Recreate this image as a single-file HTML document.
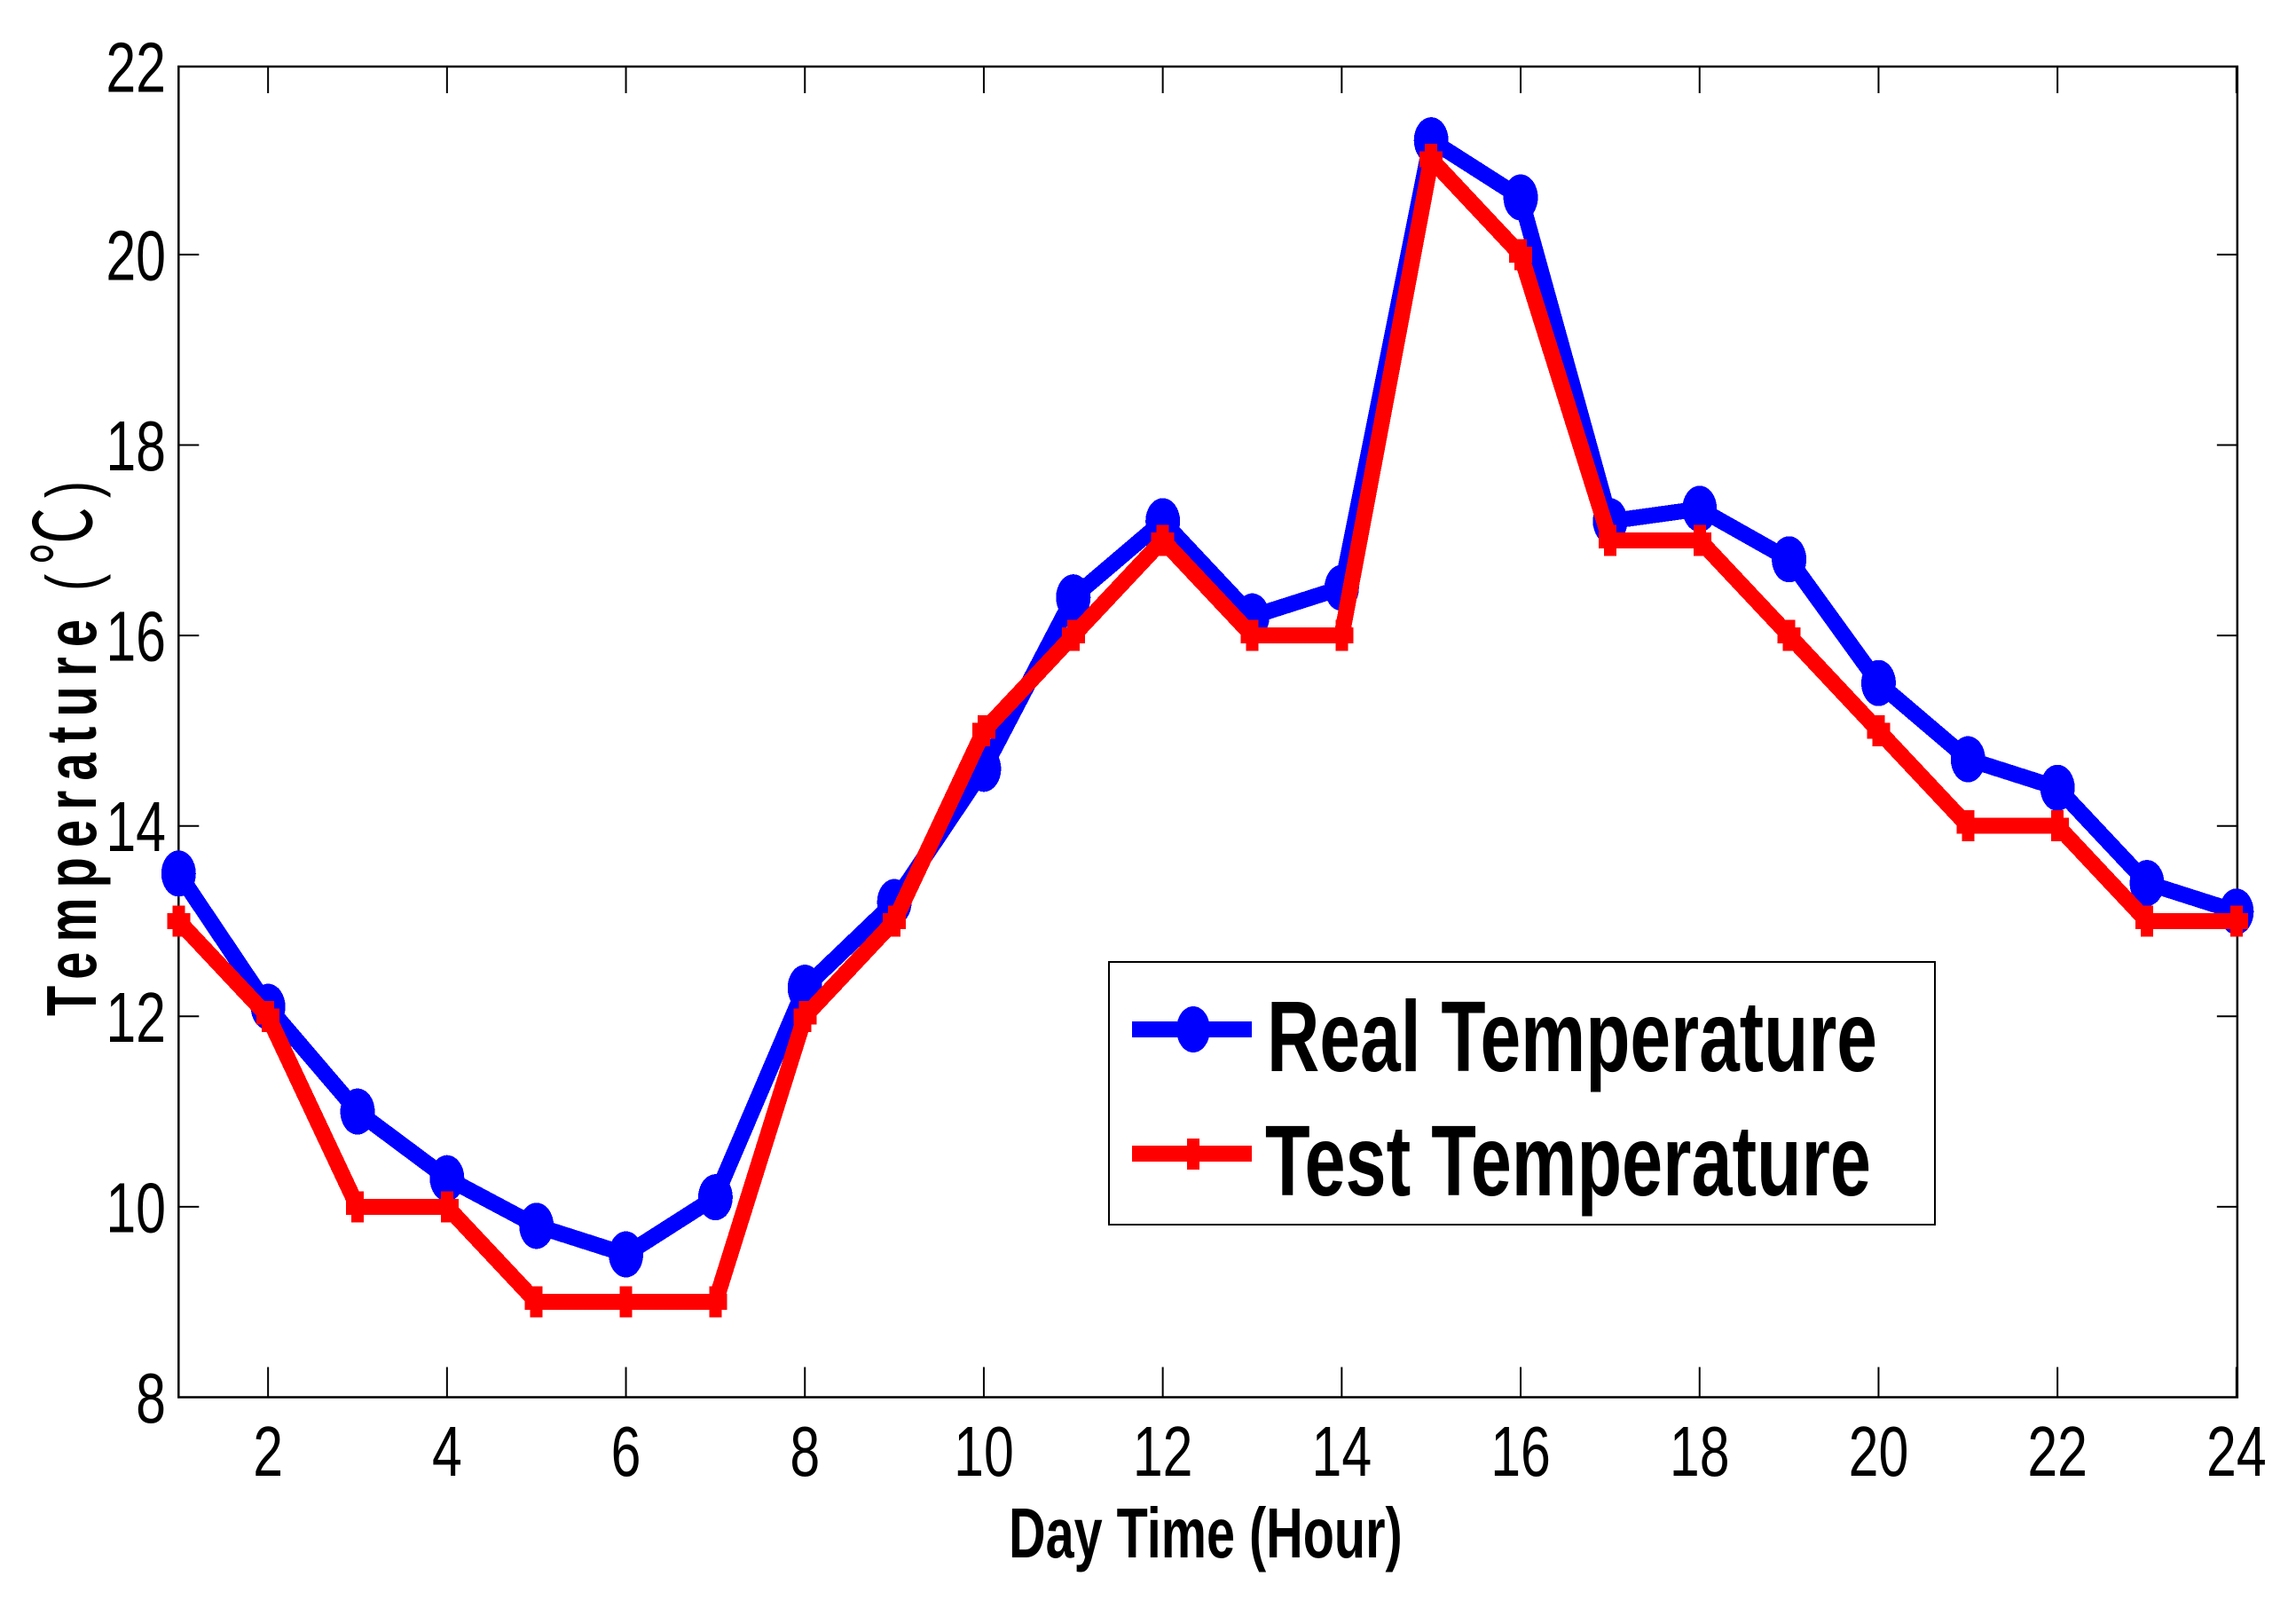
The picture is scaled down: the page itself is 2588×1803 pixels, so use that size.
<!DOCTYPE html>
<html lang="en">
<head>
<meta charset="utf-8">
<title>Real vs Test Temperature</title>
<style>
  html, body { margin: 0; padding: 0; background: #fff; }
  svg { display: block; }
  text { font-family: "Liberation Sans", "Noto Sans CJK SC", sans-serif; fill: #000; }
</style>
</head>
<body>
<svg id="chart" xmlns="http://www.w3.org/2000/svg" width="2588" height="1803" viewBox="0 0 2588 1803">
  <rect x="0" y="0" width="2588" height="1803" fill="#fff"/>
  <g id="axes"></g>
  <g id="series" shape-rendering="crispEdges"></g>
  <text transform="translate(1137,1755) scale(0.72,1)" font-size="80" font-weight="700">Day Time (Hour)</text>
  <g>
    <text transform="translate(108,1145) rotate(-90) scale(0.7,1)" font-size="80" font-weight="700" letter-spacing="16">Temperature</text>
    <text transform="translate(108,666) rotate(-90) scale(0.72,1)" font-size="80">(<tspan dx="15" dy="-5" font-size="90" style="font-family:'Noto Sans CJK SC',sans-serif">℃</tspan><tspan dx="14" dy="5">)</tspan></text>
  </g>
  <g id="legend">
    <rect x="1250" y="1084" width="931" height="296" fill="#fff" stroke="#000" stroke-width="2"/>
    <g shape-rendering="crispEdges">
      <rect x="1276" y="1151" width="135" height="18" fill="#0000ff"/>
      <ellipse cx="1345" cy="1160" rx="19" ry="26" fill="#0000ff"/>
      <text x="1428" y="1207" font-size="113" font-weight="700" textLength="688" lengthAdjust="spacingAndGlyphs">Real Temperature</text>
    </g>
    <g shape-rendering="crispEdges">
      <rect x="1276" y="1291" width="135" height="18" fill="#ff0000"/>
      <rect x="1338" y="1283" width="14" height="35" fill="#ff0000"/>
      <text x="1426" y="1347" font-size="113" font-weight="700" textLength="683" lengthAdjust="spacingAndGlyphs">Test Temperature</text>
    </g>
  </g>
</svg>
<script>
const hours = [1,2,3,4,5,6,7,8,9,10,11,12,13,14,15,16,17,18,19,20,21,22,23,24];
const realTemperature = [13.5,12.1,11,10.3,9.8,9.5,10.1,12.3,13.2,14.6,16.4,17.2,16.2,16.5,21.2,20.6,17.2,17.33,16.8,15.5,14.7,14.4,13.4,13.1];
const testTemperature = [13,12,10,10,9,9,9,12,13,15,16,17,16,16,21,20,17,17,16,15,14,14,13,13];
const xTickLabels = [2,4,6,8,10,12,14,16,18,20,22,24];
const yTickLabels = [8,10,12,14,16,18,20,22];

const NS = 'http://www.w3.org/2000/svg';
const FRAME_TOP = 75;
function xScale(v) { return 201.3 + (v - 1) * 100.85; }
function yScale(v) { return 1574.5 - (v - 8) * 107.3; }
function yTickPos(v) { return Math.max(yScale(v), FRAME_TOP); }

function make(tag, attrs, parent) {
  const el = document.createElementNS(NS, tag);
  for (const k in attrs) el.setAttribute(k, attrs[k]);
  parent.appendChild(el);
  return el;
}

const axes = document.getElementById('axes');
const series = document.getElementById('series');
const frameLeft = xScale(1);
const frameRight = xScale(24) + 1;
const frameBottom = yScale(8);

const frame = make('path', {
  d: 'M' + frameLeft + ' ' + FRAME_TOP + 'H' + frameRight + 'V' + frameBottom + 'H' + frameLeft + 'Z',
  fill: 'none', stroke: '#000', 'stroke-width': 2.5
}, axes);



xTickLabels.forEach(function (v) {
  const px = xScale(v);
  const top = make('line', { x1: px, x2: px, y1: FRAME_TOP, y2: FRAME_TOP + 30, stroke: '#000', 'stroke-width': 2 }, axes);
  
  
  const bottom = make('line', { x1: px, x2: px, y1: frameBottom, y2: frameBottom - 34, stroke: '#000', 'stroke-width': 2 }, axes);
  
  
  const label = make('text', {
    transform: 'translate(' + px + ',1663) scale(0.76,1)',
    'font-size': 80, 'text-anchor': 'middle'
  }, axes);
  label.textContent = String(v);
  
  
});

yTickLabels.forEach(function (v) {
  const py = yTickPos(v);
  const left = make('line', { x1: frameLeft, x2: frameLeft + 23, y1: py, y2: py, stroke: '#000', 'stroke-width': 2 }, axes);
  
  
  const right = make('line', { x1: frameRight, x2: frameRight - 23, y1: py, y2: py, stroke: '#000', 'stroke-width': 2 }, axes);
  
  
  const label = make('text', {
    transform: 'translate(187,' + (py + 28.5) + ') scale(0.76,1)',
    'font-size': 80, 'text-anchor': 'end'
  }, axes);
  label.textContent = String(v);
  
  
});

function linePoints(values) {
  return values.map(function (v, i) { return xScale(hours[i]) + ',' + yScale(v); }).join(' ');
}

const realLine = make('polyline', {
  points: linePoints(realTemperature), fill: 'none', stroke: '#0000ff',
  'stroke-width': 18, 'stroke-linejoin': 'round', 'stroke-linecap': 'round'
}, series);



realTemperature.forEach(function (v, i) {
  const m = make('ellipse', { cx: xScale(hours[i]), cy: yScale(v), rx: 19.5, ry: 26, fill: '#0000ff' }, series);
  
  
});

const testLine = make('polyline', {
  points: linePoints(testTemperature), fill: 'none', stroke: '#ff0000',
  'stroke-width': 18, 'stroke-linejoin': 'round', 'stroke-linecap': 'round'
}, series);



testTemperature.forEach(function (v, i) {
  const cx = xScale(hours[i]);
  const cy = yScale(v);
  const d = 'M' + (cx - 7) + ' ' + (cy - 17.5) + 'h14v8.5h6v18h-6v8.5h-14v-8.5h-6v-18h6z';
  const m = make('path', { d: d, fill: '#ff0000' }, series);
  
  
});
</script>
</body>
</html>
